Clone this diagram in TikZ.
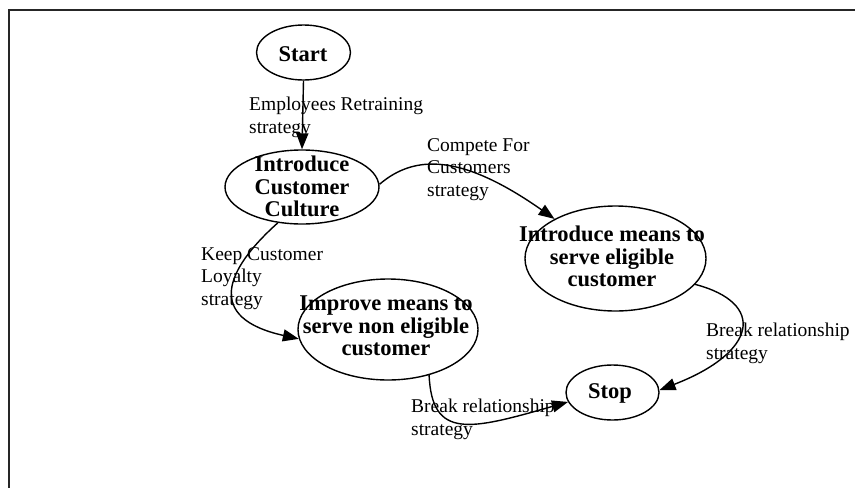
\documentclass[tikz,border=0pt]{standalone}
\usepackage{fontspec}
\setmainfont{Liberation Serif}
\usetikzlibrary{shapes.geometric,arrows.meta}
\begin{document}
\begin{tikzpicture}[x=1pt,y=-1pt,
  stateshape/.style={draw, ellipse, line width=1.4pt, inner sep=0pt},
  statetext/.style={inner sep=0pt, anchor=north, align=center,
    font=\bfseries\fontsize{22.5}{22.5}\selectfont},
  edgetext/.style={inner sep=0pt, anchor=north west, align=left,
    font=\fontsize{19.5}{22.5}\selectfont},
  conn/.style={draw, line width=1.4pt, -{Triangle[length=16pt,width=12pt]}}]
\useasboundingbox (0,0) rectangle (855,488);
% frame (only top and left edges are visible)
\coordinate (frametr) at (855,10);
\coordinate (frametl) at (9,10);
\coordinate (framebl) at (9,488);
\draw[line width=2pt, black!85] (frametr) -- (frametl) -- (framebl);

% states
\node[stateshape, minimum width=94pt, minimum height=55pt] (start) at (303.5,52.5) {};
\node[stateshape, minimum width=154pt, minimum height=74pt] (icc) at (302,187) {};
\node[stateshape, minimum width=181pt, minimum height=105pt] (ime) at (615.5,258.5) {};
\node[stateshape, minimum width=180pt, minimum height=101pt] (imn) at (388,329.5) {};
\node[stateshape, minimum width=93pt, minimum height=55pt] (stop) at (612.5,392.5) {};

% state texts
\node[statetext] (startt) at (303,46) {Start};
\node[statetext] (icct) at (302,156) {Introduce\\Customer\\Culture};
\node[statetext] (imet) at (612,226) {Introduce means to\\serve eligible\\customer};
\node[statetext] (imnt) at (386,296) {Improve means to\\serve non eligible\\customer};
\node[statetext] (stopt) at (610,383) {Stop};

% connectors
\draw[conn] (start.south) -- (icc.north);
\draw[conn] (icc.2) .. controls (415,154) and (462,154) .. (ime.147);
\draw[conn] (icc.236.7) .. controls (225,270) and (205,318) .. (imn.186.8);
\draw[conn] (ime.342.9) .. controls (766,303) and (758,352) .. (stop.3);
\draw[conn] (imn.312.2) .. controls (432,440) and (470,430) .. (stop.192);

% connector labels
\node[edgetext] (l1) at (249,97) {Employees Retraining\\strategy};
\node[edgetext] (l2) at (427,138) {Compete For\\Customers\\strategy};
\node[edgetext] (l3) at (201,247) {Keep Customer\\Loyalty\\strategy};
\node[edgetext] (l4) at (706,323) {Break relationship\\strategy};
\node[edgetext] (l5) at (411,399) {Break relationship\\strategy};
\end{tikzpicture}
\end{document}
